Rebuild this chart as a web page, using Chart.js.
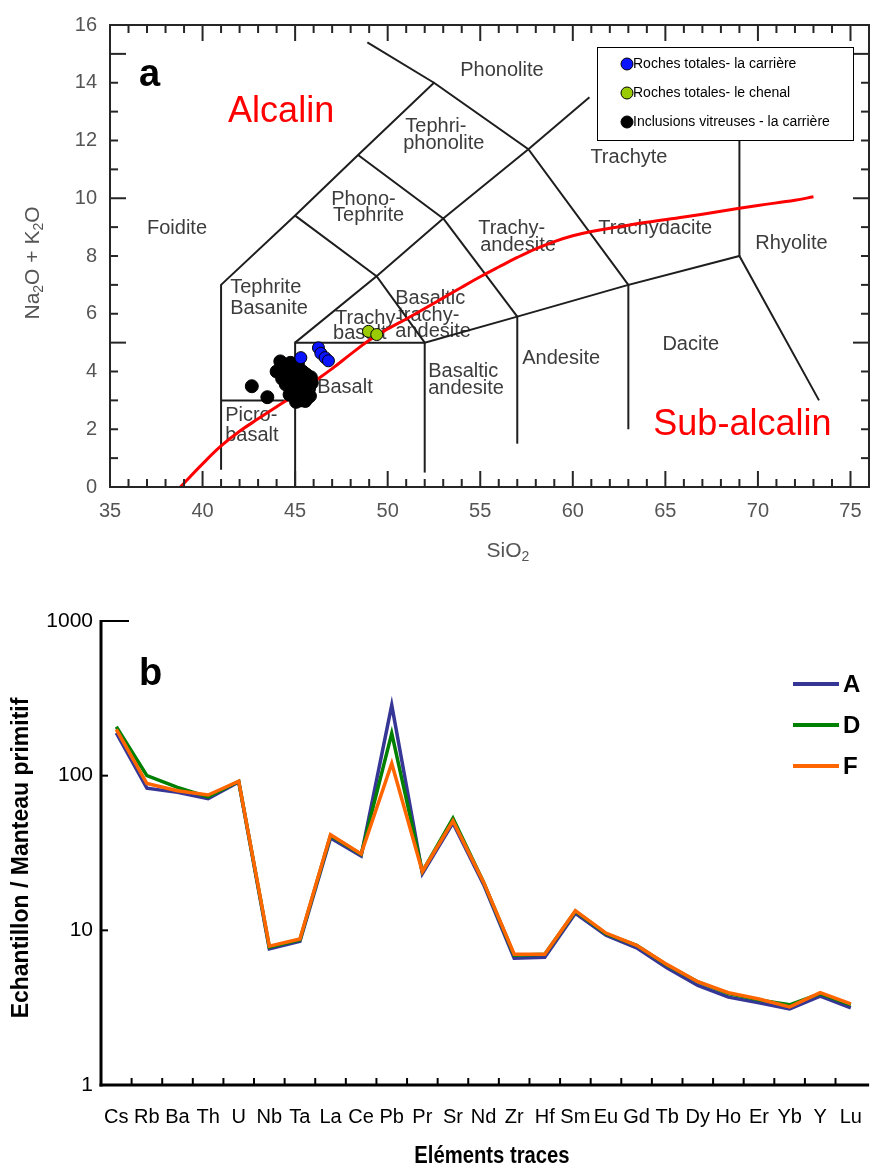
<!DOCTYPE html>
<html>
<head>
<meta charset="utf-8">
<script src="https://cdn.jsdelivr.net/npm/chart.js@4.4.0/dist/chart.umd.min.js"></script>
<style>
html, body { margin: 0; padding: 0; background: #fff; overflow: hidden; }
#tas { position: absolute; left: 0; top: 0; }
#spider { position: absolute; left: 0; top: 600px; }
</style>
</head>
<body>
<canvas id="tas" width="877" height="580"></canvas>
<canvas id="spider" width="882" height="568"></canvas>
<script>
// ---- (a) TAS diagram data ----
const carriereRoches = [[45.31,4.48],[46.26,4.82],[46.39,4.63],[46.62,4.48],[46.8,4.37]];
const chenalRoches = [[48.96,5.39],[49.41,5.28]];
const inclusions = [
    [42.66,3.49],[43.5,3.11],
    [44.0,4.0],[44.2,4.35],[44.35,4.2],[44.3,3.75],[44.5,3.55],[44.6,4.05],[44.75,4.3],[44.8,3.8],
    [44.9,3.4],[45.0,4.05],[45.0,3.6],[45.1,3.2],[45.2,3.85],[45.15,4.25],[45.3,3.45],[45.3,3.0],
    [45.4,3.7],[45.4,4.0],[45.5,3.25],[45.6,3.55],[45.6,3.9],[45.7,3.1],[45.75,3.4],[45.85,3.8],
    [45.8,3.15],[45.9,3.6],[45.55,2.98],[44.7,3.2],[45.05,2.95],[44.45,3.95]
];
const alkalineLine = [
    [38.8,0],[40,0.8],[41,1.42],[42,1.93],[43,2.36],[44,2.78],[45,3.19],[46,3.64],[47,4.1],[48,4.6],
    [49,5.08],[50,5.47],[51,5.82],[52,6.18],[53,6.55],[54,6.92],[55,7.28],[56,7.62],[57,7.95],[58,8.25],
    [59,8.5],[60,8.7],[61,8.85],[62,8.96],[64,9.17],[66,9.35],[68,9.55],[70,9.75],[72,9.93],[73,10.05]
];
const fieldLines = [
    [[41,0.6],[41,7],[45,9.4],[48.4,11.5],[52.5,14],[57.6,11.7],[63,7],[69,8],[73.3,3]],
    [[52.5,14],[48.9,15.4]],
    [[57.6,11.7],[60.9,13.5]],
    [[48.4,11.5],[53,9.3],[57.6,11.7]],
    [[45,9.4],[49.4,7.3],[53,9.3]],
    [[53,9.3],[57,5.9]],
    [[45,5],[49.4,7.3],[52,5]],
    [[45,0],[45,5],[52,5],[57,5.9],[63,7]],
    [[41,3],[45,3]],
    [[52,0.5],[52,5]],
    [[57,1.5],[57,5.9]],
    [[63,2],[63,7]],
    [[69,8],[69,12]]
];
const fieldNames = [
    ['Phonolite',53.92,14.43],['Tephri-',50.95,12.48],['phonolite',50.84,11.9],['Trachyte',60.95,11.42],
    ['Phono-',46.95,9.95],['Tephrite',47.05,9.4],['Foidite',37.0,8.96],['Trachy-',54.89,8.96],
    ['andesite',55.0,8.38],['Trachydacite',61.38,8.96],['Rhyolite',69.86,8.44],['Tephrite',41.49,6.91],
    ['Basanite',41.49,6.19],['Basaltic',50.41,6.53],['trachy-',50.57,5.95],['andesite',50.41,5.4],
    ['Trachy-',47.16,5.85],['basalt',47.05,5.3],['Andesite',57.27,4.44],['Dacite',64.84,4.92],
    ['Basalt',46.19,3.45],['Basaltic',52.19,4.0],['andesite',52.19,3.42],['Picro-',41.22,2.46],['basalt',41.22,1.78]
];
const seriesNames = ['Roches totales- la carrière', 'Roches totales- le chenal', 'Inclusions vitreuses - la carrière'];
const siTicks = [35,40,45,50,55,60,65,70,75];
const alkTicks = [0,2,4,6,8,10,12,14,16];

// ---- (b) spider diagram data ----
const elements = ['Cs','Rb','Ba','Th','U','Nb','Ta','La','Ce','Pb','Pr','Sr','Nd','Zr','Hf','Sm','Eu','Gd','Tb','Dy','Ho','Er','Yb','Y','Lu'];
const sampleA = [189,83,78,71,91,7.6,8.5,39.5,30.2,286,23.3,49.5,19.8,6.6,6.7,12.9,9.3,7.7,5.7,4.4,3.7,3.4,3.1,3.75,3.15];
const sampleD = [207,100,84,73,92,7.8,8.7,41,31,188,24,53,20.5,6.9,7.0,13.3,9.5,8.0,5.95,4.65,3.9,3.55,3.3,3.9,3.3];
const sampleF = [199,89,80,75,92,7.9,8.8,41.5,31.2,120,24,51,20.5,7.0,7.0,13.4,9.6,8.0,6.0,4.65,3.95,3.6,3.2,3.95,3.35];
const ratioTicks = [1,10,100,1000];

const FONT = 'Arial, "Liberation Sans", sans-serif';
const toXY = pts => pts.map(p => ({x: p[0], y: p[1]}));

function line(ctx, x1, y1, x2, y2) {
    ctx.beginPath();
    ctx.moveTo(x1, y1);
    ctx.lineTo(x2, y2);
    ctx.stroke();
}

// text with subscripts, centred on (cx, cy)
function drawParts(ctx, parts, cx, cy, size, rot) {
    ctx.save();
    ctx.translate(cx, cy);
    if (rot) ctx.rotate(rot);
    const fonts = parts.map(p => (p[1] ? Math.round(size * 0.68) : size) + 'px ' + FONT);
    let w = 0;
    parts.forEach((p, i) => { ctx.font = fonts[i]; w += ctx.measureText(p[0]).width; });
    let xx = -w / 2;
    ctx.textAlign = 'left';
    ctx.textBaseline = 'alphabetic';
    parts.forEach((p, i) => {
        ctx.font = fonts[i];
        ctx.fillText(p[0], xx, p[1] ? size * 0.58 : size * 0.36);
        xx += ctx.measureText(p[0]).width;
    });
    ctx.restore();
}

// ---- (a) ----
const pointColors = ['#0a14ff', '#9acb00', '#000000'];

const tasDecor = {
    id: 'tasDecor',
    beforeDatasetsDraw(chart) {
        const {ctx, scales: {x, y}} = chart;
        ctx.save();
        ctx.textBaseline = 'middle';
        ctx.textAlign = 'left';
        ctx.fillStyle = '#3c3c3c';
        ctx.font = '20px ' + FONT;
        fieldNames.forEach(f => ctx.fillText(f[0], x.getPixelForValue(f[1]), y.getPixelForValue(f[2])));
        ctx.fillStyle = '#ff0000';
        ctx.font = '36px ' + FONT;
        ctx.fillText('Alcalin', x.getPixelForValue(41.38), y.getPixelForValue(12.99));
        ctx.fillText('Sub-alcalin', x.getPixelForValue(64.35), y.getPixelForValue(2.15));
        ctx.restore();
    },
    afterDatasetsDraw(chart) {
        const {ctx, chartArea: a, scales: {x, y}} = chart;
        ctx.save();
        // frame and inward ticks
        ctx.strokeStyle = '#262626';
        ctx.lineWidth = 2;
        ctx.strokeRect(a.left, a.top, a.right - a.left, a.bottom - a.top);
        for (let v = 35; v <= 76; v++) {
            const px = x.getPixelForValue(v);
            const len = v % 5 === 0 ? 16 : 8;
            line(ctx, px, a.bottom, px, a.bottom - len);
            line(ctx, px, a.top, px, a.top + len);
        }
        for (let v = 0; v <= 16; v++) {
            const py = y.getPixelForValue(v);
            const len = v % 5 === 0 ? 16 : 8;
            line(ctx, a.left, py, a.left + len, py);
            line(ctx, a.right, py, a.right - len, py);
        }
        // legend box
        ctx.fillStyle = '#fff';
        ctx.fillRect(597, 47, 256, 93);
        ctx.strokeStyle = '#000';
        ctx.lineWidth = 1;
        ctx.strokeRect(597.5, 47.5, 256, 93);
        ctx.font = '14px ' + FONT;
        ctx.textBaseline = 'middle';
        ctx.textAlign = 'left';
        seriesNames.forEach((s, i) => {
            const yy = 64 + i * 29;
            ctx.beginPath();
            ctx.arc(627, yy, 6, 0, Math.PI * 2);
            ctx.fillStyle = pointColors[i];
            ctx.fill();
            ctx.stroke();
            ctx.fillStyle = '#000';
            ctx.fillText(s, 633, yy);
        });
        // panel letter
        ctx.font = 'bold 38px ' + FONT;
        ctx.fillText('a', 139, 76);
        // axis titles
        ctx.fillStyle = '#555';
        drawParts(ctx, [['Na',0],['2',1],['O + K',0],['2',1],['O',0]], 31, 263, 21, -Math.PI / 2);
        drawParts(ctx, [['SiO',0],['2',1]], 508, 549, 21, 0);
        ctx.restore();
    }
};

const tasDatasets = [
    {label: seriesNames[0], data: toXY(carriereRoches), backgroundColor: pointColors[0], borderColor: '#000', borderWidth: 1, pointRadius: 6, order: 0},
    {label: seriesNames[1], data: toXY(chenalRoches), backgroundColor: pointColors[1], borderColor: '#000', borderWidth: 1, pointRadius: 6, order: 0},
    {label: seriesNames[2], data: toXY(inclusions), backgroundColor: pointColors[2], borderColor: '#000', borderWidth: 1, pointRadius: 6.5, order: 1},
    {label: 'limite', data: toXY(alkalineLine), showLine: true, borderColor: '#ff0000', borderWidth: 3, pointRadius: 0, tension: 0.4, order: 2}
];
fieldLines.forEach(l => {
    tasDatasets.push({data: toXY(l), showLine: true, borderColor: '#1e1e1e', borderWidth: 2, pointRadius: 0, order: 3});
});

new Chart(document.getElementById('tas'), {
    type: 'scatter',
    data: {datasets: tasDatasets},
    options: {
        responsive: false,
        animation: false,
        layout: {padding: {left: 0, right: 8, top: 19, bottom: 0}},
        plugins: {legend: {display: false}, tooltip: {enabled: false}},
        scales: {
            x: {
                type: 'linear', min: 35, max: 76,
                afterBuildTicks: s => { s.ticks = siTicks.map(v => ({value: v})); },
                afterFit: s => { s.height = 93; },
                grid: {display: false, drawTicks: false},
                border: {display: false},
                ticks: {color: '#555', padding: 12, font: {family: FONT, size: 20}}
            },
            y: {
                type: 'linear', min: 0, max: 16,
                afterBuildTicks: s => { s.ticks = alkTicks.map(v => ({value: v})); },
                afterFit: s => { s.width = 110; },
                grid: {display: false, drawTicks: false},
                border: {display: false},
                ticks: {color: '#555', padding: 13, font: {family: FONT, size: 20}}
            }
        }
    },
    plugins: [tasDecor]
});

// ---- (b) ----
const spiderDecor = {
    id: 'spiderDecor',
    afterDatasetsDraw(chart) {
        const {ctx, chartArea: a, scales: {x, y}} = chart;
        ctx.save();
        ctx.strokeStyle = '#000';
        ctx.lineWidth = 3;
        line(ctx, a.left, a.top - 1, a.left, a.bottom + 1.5);
        line(ctx, a.left - 1.5, a.bottom, a.right + 3, a.bottom);
        ctx.lineWidth = 2;
        line(ctx, a.left, a.top, a.left + 28, a.top);
        [10, 100].forEach(v => {
            const py = y.getPixelForValue(v);
            line(ctx, a.left, py, a.left + 7, py);
        });
        const step = x.getPixelForValue(1) - x.getPixelForValue(0);
        for (let i = 0; i < elements.length - 1; i++) {
            const px = x.getPixelForValue(i) + step / 2;
            line(ctx, px, a.bottom, px, a.bottom - 7);
        }
        // legend
        ctx.lineWidth = 4;
        ctx.font = 'bold 24px ' + FONT;
        ctx.textBaseline = 'middle';
        ctx.textAlign = 'left';
        chart.data.datasets.forEach((d, i) => {
            const yy = 84 + i * 41;
            ctx.strokeStyle = d.borderColor;
            line(ctx, 793, yy, 839, yy);
            ctx.fillStyle = '#000';
            ctx.fillText(d.label, 843, yy + 1);
        });
        // panel letter and titles
        ctx.font = 'bold 38px ' + FONT;
        ctx.textBaseline = 'alphabetic';
        ctx.fillText('b', 139, 85);
        ctx.textAlign = 'center';
        ctx.textBaseline = 'middle';
        ctx.save();
        ctx.translate(492, 557);
        ctx.scale(0.88, 1);
        ctx.font = 'bold 23px ' + FONT;
        ctx.fillText('Eléments traces', 0, 0);
        ctx.restore();
        ctx.translate(22, 258);
        ctx.rotate(-Math.PI / 2);
        ctx.font = 'bold 23px ' + FONT;
        ctx.fillText('Echantillon / Manteau primitif', 0, 0);
        ctx.restore();
    }
};

new Chart(document.getElementById('spider'), {
    type: 'line',
    data: {
        labels: elements,
        datasets: [
            {label: 'A', data: sampleA, borderColor: '#363696', order: 2},
            {label: 'D', data: sampleD, borderColor: '#008000', order: 1},
            {label: 'F', data: sampleF, borderColor: '#ff6600', order: 0}
        ]
    },
    options: {
        responsive: false,
        animation: false,
        layout: {padding: {left: 0, right: 3, top: 21, bottom: 0}},
        elements: {line: {borderWidth: 3.5, tension: 0, fill: false}, point: {radius: 0}},
        plugins: {legend: {display: false}, tooltip: {enabled: false}},
        scales: {
            x: {
                type: 'category', offset: true,
                afterFit: s => { s.height = 83; },
                grid: {display: false, drawTicks: false},
                border: {display: false},
                ticks: {color: '#000', padding: 20, autoSkip: false, maxRotation: 0, font: {family: FONT, size: 20}}
            },
            y: {
                type: 'logarithmic', min: 1, max: 1000,
                afterBuildTicks: s => { s.ticks = ratioTicks.map(v => ({value: v})); },
                afterFit: s => { s.width = 101; },
                grid: {display: false, drawTicks: false},
                border: {display: false},
                ticks: {color: '#000', padding: 8, font: {family: FONT, size: 21}, callback: v => String(v)}
            }
        }
    },
    plugins: [spiderDecor]
});
</script>
</body>
</html>
